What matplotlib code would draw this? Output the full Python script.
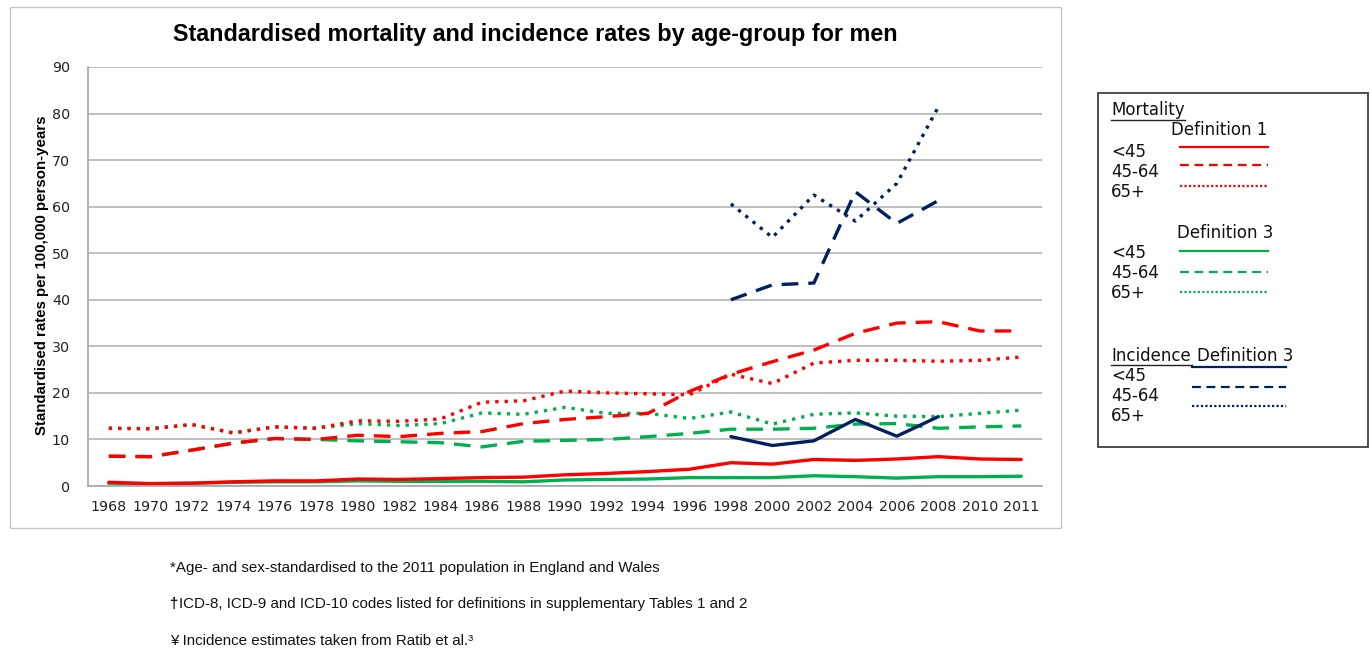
import matplotlib.pyplot as plt
from matplotlib.lines import Line2D
from matplotlib.patches import Rectangle

# categories on the x axis (Excel category axis, 2011 follows 2010)
years = ['1968', '1970', '1972', '1974', '1976', '1978', '1980', '1982', '1984', '1986', '1988',
         '1990', '1992', '1994', '1996', '1998', '2000', '2002', '2004', '2006', '2008', '2010', '2011']

# Mortality, definition 1
mort1_u45 = [0.8, 0.5, 0.6, 0.9, 1.1, 1.1, 1.5, 1.4, 1.6, 1.8, 1.9,
             2.4, 2.7, 3.1, 3.6, 5.0, 4.7, 5.7, 5.5, 5.8, 6.3, 5.8, 5.7]
mort1_4564 = [6.4, 6.3, 7.7, 9.2, 10.2, 10.0, 10.9, 10.6, 11.3, 11.7, 13.4,
              14.3, 14.9, 15.6, 20.3, 24.0, 26.7, 29.2, 32.8, 35.0, 35.3, 33.3, 33.3]
mort1_65 = [12.4, 12.3, 13.2, 11.4, 12.7, 12.4, 14.0, 13.9, 14.4, 18.0, 18.3,
            20.4, 20.0, 19.8, 19.6, 24.0, 22.0, 26.4, 27.0, 27.0, 26.8, 27.0, 27.7]

# Mortality, definition 3
mort3_u45 = [0.6, 0.5, 0.6, 0.8, 0.9, 0.9, 1.1, 1.0, 1.0, 1.0, 0.9,
             1.3, 1.4, 1.5, 1.8, 1.8, 1.8, 2.2, 2.0, 1.7, 2.0, 2.0, 2.1]
mort3_4564 = [6.4, 6.3, 7.7, 9.2, 10.2, 10.0, 9.7, 9.5, 9.3, 8.4, 9.6,
              9.8, 10.0, 10.6, 11.3, 12.2, 12.2, 12.4, 13.3, 13.4, 12.4, 12.7, 12.9]
mort3_65 = [12.4, 12.3, 13.2, 11.4, 12.7, 12.4, 13.4, 13.0, 13.4, 15.7, 15.4,
            16.9, 15.6, 15.6, 14.5, 15.9, 13.3, 15.4, 15.7, 15.0, 14.9, 15.6, 16.3]

# Incidence, definition 3 (1998-2008 only)
inc_years = ['1998', '2000', '2002', '2004', '2006', '2008']
inc_u45 = [10.6, 8.7, 9.7, 14.3, 10.7, 14.9]
inc_4564 = [40.0, 43.2, 43.6, 63.2, 56.4, 61.3]
inc_65 = [60.6, 53.4, 62.5, 56.9, 65.0, 81.4]

RED = '#FF0000'
GREEN = '#00B050'
NAVY = '#002060'

W, H = 1370, 648


def fx(x):
    return x / W


def fy(y):
    return 1 - y / H


fig = plt.figure(figsize=(13.7, 6.48), dpi=100)

# chart area frame
fig.add_artist(Rectangle((fx(10), fy(528)), fx(1061) - fx(10), fy(7) - fy(528),
                         transform=fig.transFigure, fill=False, edgecolor='#c8c8c8', lw=1))

ax = fig.add_axes([fx(88), fy(486), fx(1042) - fx(88), fy(67) - fy(486)])

xi = list(range(len(years)))
inc_x = [years.index(y) for y in inc_years]

solid = dict(linestyle='-', lw=2.4, solid_capstyle='round')
dash = dict(linestyle=(0, (5, 3)), lw=2.4, dash_capstyle='butt')
dot = dict(linestyle=(0, (1, 1.8)), lw=2.4, dash_capstyle='butt')

ax.plot(xi, mort3_u45, color=GREEN, **solid)
ax.plot(xi, mort3_4564, color=GREEN, **dash)
ax.plot(xi, mort3_65, color=GREEN, **dot)
ax.plot(xi, mort1_u45, color=RED, **solid)
ax.plot(xi, mort1_4564, color=RED, **dash)
ax.plot(xi, mort1_65, color=RED, **dot)
ax.plot(inc_x, inc_u45, color=NAVY, **solid)
ax.plot(inc_x, inc_4564, color=NAVY, **dash)
ax.plot(inc_x, inc_65, color=NAVY, **dot)

ax.set_xlim(-0.5, len(years) - 0.5)
ax.set_ylim(0, 90)
ax.set_yticks(range(0, 91, 10))
ax.set_xticks(xi)
ax.set_xticklabels(years)
ax.grid(axis='y', color='#b4b4b4', lw=1.2)
ax.set_axisbelow(True)
for s in ['top', 'right']:
    ax.spines[s].set_visible(False)
for s in ['left', 'bottom']:
    ax.spines[s].set_color('#a6a6a6')
    ax.spines[s].set_linewidth(1.2)
ax.tick_params(length=0, labelsize=10.3, colors='#222222')
ax.tick_params(axis='x', pad=10)
ax.tick_params(axis='y', pad=13)
for lab in ax.get_xticklabels() + ax.get_yticklabels():
    lab.set_family('DejaVu Sans')

fig.text(fx(535), fy(35), 'Standardised mortality and incidence rates by age-group for men',
         ha='center', va='center', fontsize=16.8, fontweight='bold', family='Liberation Sans')
fig.text(fx(42), fy(275), 'Standardised rates per 100,000 person-years', rotation=90,
         ha='center', va='center', fontsize=10.8, fontweight='bold', family='Liberation Sans')

# legend box drawn by hand, like the source
fig.add_artist(Rectangle((fx(1098), fy(447)), fx(1368) - fx(1098), fy(93) - fy(447),
                         transform=fig.transFigure, fill=False, edgecolor='#404040', lw=1.3))

lg = dict(fontsize=12, family='DejaVu Sans', va='center', ha='left', color='#111111')
ages = ['<45', '45-64', '65+']


def legend_line(x0, x1, y, color, style):
    st = {'solid': dict(linestyle='-'),
          'dash': dict(linestyle=(0, (4, 2.5))),
          'dot': dict(linestyle=(0, (1, 1)))}[style]
    fig.add_artist(Line2D([fx(x0), fx(x1)], [fy(y), fy(y)], transform=fig.transFigure,
                          color=color, lw=1.6, dash_capstyle='butt', **st))


fig.text(fx(1111), fy(110), 'Mortality', **lg)
fig.add_artist(Line2D([fx(1111), fx(1185)], [fy(120), fy(120)], transform=fig.transFigure,
                      color='#222222', lw=1))
fig.text(fx(1171), fy(130), 'Definition 1', **lg)
for a, ty, ly, st in zip(ages, [152, 172, 192], [147, 165, 186], ['solid', 'dash', 'dot']):
    fig.text(fx(1111), fy(ty), a, **lg)
    legend_line(1180, 1268, ly, RED, st)

fig.text(fx(1177), fy(233), 'Definition 3', **lg)
for a, ty, ly, st in zip(ages, [253, 273, 293], [251, 272, 292], ['solid', 'dash', 'dot']):
    fig.text(fx(1111), fy(ty), a, **lg)
    legend_line(1180, 1268, ly, GREEN, st)

fig.text(fx(1111), fy(356), 'Incidence', **lg)
fig.add_artist(Line2D([fx(1111), fx(1192)], [fy(365), fy(365)], transform=fig.transFigure,
                      color='#222222', lw=1))
fig.text(fx(1197), fy(356), 'Definition 3', **lg)
for a, ty, ly, st in zip(ages, [376, 396, 416], [367, 387, 406], ['solid', 'dash', 'dot']):
    fig.text(fx(1111), fy(ty), a, **lg)
    legend_line(1192, 1286, ly, NAVY, st)

# footnotes
fn = dict(fontsize=10.9, family='Liberation Sans', va='center', ha='left', color='#111111')
fig.text(fx(170), fy(568), '*Age- and sex-standardised to the 2011 population in England and Wales', **fn)
fig.text(fx(169), fy(604), '\u2020', fontweight='bold', **fn)
fig.text(fx(179), fy(604), 'ICD-8, ICD-9 and ICD-10 codes listed for definitions in supplementary Tables 1 and 2', **fn)
fig.text(fx(170), fy(641), '\u00a5 Incidence estimates taken from Ratib et al.\u00b3', **fn)

fig.savefig('out.png', dpi=100)
